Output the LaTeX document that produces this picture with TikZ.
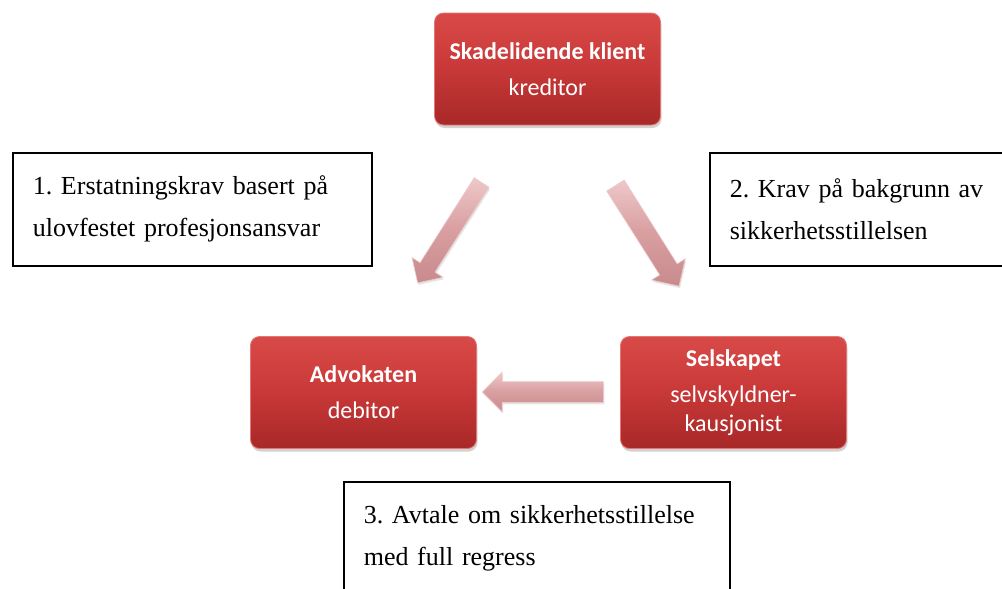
\documentclass[tikz,border=0pt]{standalone}
\usepackage{fontspec}
\setmainfont{Liberation Serif}
\newfontfamily\calfont{Carlito}
\usetikzlibrary{shapes.arrows,shadows}
\definecolor{redtop}{RGB}{216,74,72}
\definecolor{redmid}{RGB}{200,56,56}
\definecolor{redbot}{RGB}{168,40,40}
\definecolor{redrim}{RGB}{228,118,116}
\definecolor{pinklight}{RGB}{238,200,201}
\definecolor{pinkmain}{RGB}{216,158,160}
\definecolor{pinkdark}{RGB}{200,138,141}
\tikzset{
  redbox/.style={rounded corners=9pt, minimum width=226pt, minimum height=112pt,
    top color=redtop, bottom color=redbot, middle color=redmid,
    draw=redrim, line width=0.8pt,
    drop shadow={opacity=0.35, shadow xshift=1pt, shadow yshift=-3pt},
    text=white, font=\calfont\fontsize{24}{29}\selectfont, align=center, inner sep=0pt},
  blockarrow/.style={single arrow, single arrow head extend=9.5pt, single arrow head indent=0pt,
    inner xsep=0pt, inner ysep=10pt, text height=0pt, text depth=0pt,
    top color=pinklight, bottom color=pinkdark, middle color=pinkmain,
    draw=pinklight, line width=0.6pt,
    drop shadow={opacity=0.2, shadow xshift=1pt, shadow yshift=-2pt}},
  textbox/.style={draw=black, line width=1.6pt, anchor=north west, minimum height=113pt,
    align=left, inner xsep=20pt, inner ysep=0pt, font=\frenchspacing\fontsize{26}{42}\selectfont}
}
\begin{document}
\begin{tikzpicture}[x=1pt,y=-1pt]
\clip (0,0) rectangle (1002,589);
\fill[white] (0,0) rectangle (1002,589);
% text boxes
\node[textbox, text width=319pt] (t1) at (12,152) {1. Erstatningskrav basert på\\ulovfestet profesjonsansvar};
\node[textbox, text width=319pt] (t2) at (709,152) {2. Krav på bakgrunn av\\sikkerhetsstillelsen};
\node[textbox, text width=346pt] (t3) at (343,481) {3. Avtale om sikkerhetsstillelse\\med full regress};
% red boxes
\node[redbox] (klient) at (547.5,69) {\textbf{Skadelidende klient}\\[7pt]kreditor};
\node[redbox] (advokat) at (363.5,392.5) {\textbf{Advokaten}\\[7pt]debitor};
\node[redbox] (selskap) at (733.5,392.5) {\textbf{Selskapet}\\[7pt]selvskyldner-\\kausjonist};
% block arrows
\node[blockarrow, minimum height=119pt, inner ysep=8.5pt, rotate=237.5] (a1) at (452,229) {};
\node[blockarrow, minimum height=119pt, rotate=302.3] (a2) at (644.5,231.5) {};
\node[blockarrow, minimum height=121pt, rotate=180] (a3) at (548,392) {};
\end{tikzpicture}
\end{document}
